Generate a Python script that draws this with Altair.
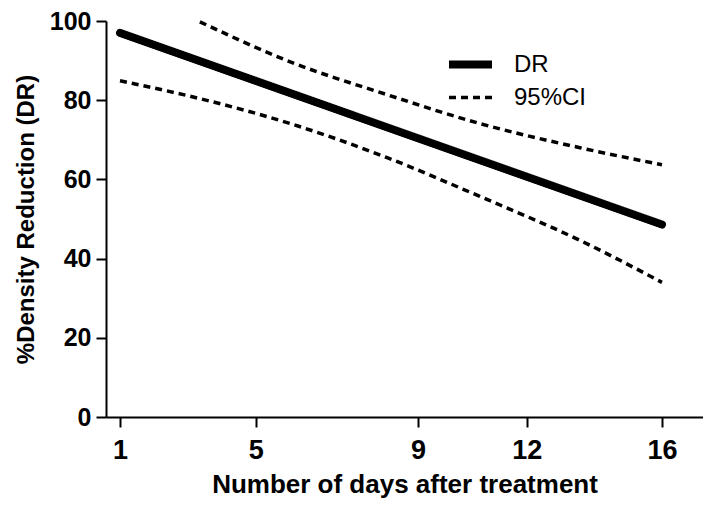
import altair as alt
import pandas as pd

# x axis: tick positions (in the chart's day units) and their labels
x_ticks = [1, 4.76, 9.25, 12.26, 16]
x_labels = ["1", "5", "9", "12", "16"]
y_ticks = [0, 20, 40, 60, 80, 100]

# DR regression line
dr_days = [1, 16]
dr_values = [97.0, 48.6]

# 95% CI bands
upper_days = [3.21, 5.71, 8.39, 10.96, 13.73, 16]
ci_upper = [99.8, 89.7, 81.4, 74.1, 68.0, 63.7]
lower_days = [1, 3.21, 5.71, 8.39, 10.96, 13.73, 16]
ci_lower = [84.9, 80.4, 74.1, 65.5, 55.7, 44.6, 34.0]

series_names = ["DR", "95%CI"]

rows = []
for d, v in zip(dr_days, dr_values):
    rows.append({"day": d, "value": v, "series": "DR", "line": "dr"})
for d, v in zip(upper_days, ci_upper):
    rows.append({"day": d, "value": v, "series": "95%CI", "line": "upper"})
for d, v in zip(lower_days, ci_lower):
    rows.append({"day": d, "value": v, "series": "95%CI", "line": "lower"})
df = pd.DataFrame(rows)

label_expr = " : ".join(
    f"datum.value == {v} ? '{l}'" for v, l in zip(x_ticks, x_labels)
) + " : ''"

FONT = "Liberation Sans"

legend = alt.Legend(
    title=None,
    orient="none",
    legendX=339,
    legendY=28,
    symbolType="stroke",
    symbolSize=1849,
    symbolStrokeColor="black",
    labelFont=FONT,
    labelFontSize=24,
    labelColor="black",
    labelOffset=18,
    clipHeight=31,
    rowPadding=2,
    padding=0,
)

base = alt.Chart(df).encode(
    x=alt.X(
        "day:Q",
        scale=alt.Scale(domain=[0.6125, 17.135], nice=False, zero=False),
        axis=alt.Axis(
            values=x_ticks,
            labelExpr=label_expr,
            title="Number of days after treatment",
            labelPadding=10,
            titlePadding=8,
            titleFontSize=26,
            labelFontSize=27,
        ),
    ),
    y=alt.Y(
        "value:Q",
        scale=alt.Scale(domain=[0, 100], nice=False),
        axis=alt.Axis(
            values=y_ticks,
            title="%Density Reduction (DR)",
            labelPadding=5,
            titlePadding=11,
            titleFontSize=24,
            labelFontSize=25,
        ),
    ),
    detail="line:N",
    strokeDash=alt.StrokeDash(
        "series:N",
        scale=alt.Scale(domain=series_names, range=[[1, 0], [7, 5]]),
        legend=legend,
    ),
    strokeWidth=alt.StrokeWidth(
        "series:N",
        scale=alt.Scale(domain=series_names, range=[8, 3.5]),
        legend=legend,
    ),
)

dr = base.transform_filter(alt.datum.series == "DR").mark_line(
    color="black", strokeCap="round"
)
ci = base.transform_filter(alt.datum.series == "95%CI").mark_line(
    color="black", strokeCap="butt", interpolate="monotone"
)

chart = (
    alt.layer(dr, ci)
    .properties(
        width=597,
        height=396,
        autosize=alt.AutoSizeParams(type="none"),
        padding={"left": 98, "top": 13, "right": 0, "bottom": 83},
    )
    .configure_view(stroke=None)
    .configure_axis(
        grid=False,
        domainColor="black",
        domainWidth=2,
        tickColor="black",
        tickWidth=2,
        tickSize=10,
        labelFont=FONT,
        labelFontWeight="bold",
        labelColor="black",
        titleFont=FONT,
        titleFontWeight="bold",
        titleColor="black",
    )
)

chart.save("out.html", embed_options={"renderer": "svg", "actions": False})
